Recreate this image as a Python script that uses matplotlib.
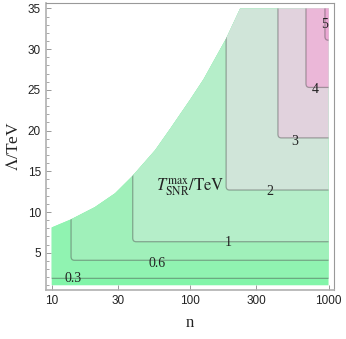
import matplotlib
matplotlib.use("Agg")
import matplotlib.pyplot as plt
from matplotlib.path import Path
from matplotlib.patches import PathPatch, Polygon
from matplotlib.ticker import FixedLocator, MultipleLocator, NullLocator, FixedFormatter

# ---- data ----
boundary_n = [10, 13.8, 20.5, 28.7, 38.2, 55.9, 71.6, 100, 125, 182, 230]
boundary_L = [8.1, 9.1, 10.6, 12.3, 14.4, 17.6, 20.2, 23.8, 26.3, 31.3, 35.0]

levels = ["0.3", "0.6", "1", "2", "3", "4", "5"]
corner_n = [9, 13.8, 38.5, 182, 431, 687, 942]
corner_L = [1.85, 4.07, 6.35, 12.7, 19.1, 25.3, 31.1]
label_n = [14.3, 57.4, 187, 379, 565, 802, 931]
label_L = [1.85, 3.7, 6.23, 12.5, 18.6, 25.1, 33.05]
band_colors = ['#82f5a9', '#90f3b1', '#a0f0ba', '#b5eec9',
               '#d0e5d9', '#e1d2dd', '#ebb7d8', '#eaa8d3']

n_range = [10, 1000]
L_range = [1, 35]
xticks = [10, 30, 100, 300, 1000]
xticklabels = ["10", "30", "100", "300", "1000"]
yticks = [5, 10, 15, 20, 25, 30, 35]

plt.rcParams['mathtext.fontset'] = 'stix'

fig = plt.figure(figsize=(3.46, 3.39), dpi=100)
ax = fig.add_axes([45.7 / 346, 1 - 290 / 339, (333.5 - 45.7) / 346, (290 - 3) / 339])
ax.set_xscale('log')
ax.set_xlim(9.05, 1086)
ax.set_ylim(0.42, 35.67)

# allowed region
verts = [(n_range[0], L_range[0])] + list(zip(boundary_n, boundary_L)) + \
        [(n_range[1], L_range[1]), (n_range[1], L_range[0])]
base = Polygon(verts, closed=True, facecolor=band_colors[0], edgecolor='none',
               transform=ax.transData, zorder=1)
ax.add_patch(base)

top, right = 40, 1200
rL = 0.45
fx = 10 ** 0.024
for i, (nc, Lc) in enumerate(zip(corner_n, corner_L)):
    v = [(nc, top), (nc, Lc + rL), (nc, Lc), (nc * fx, Lc), (right, Lc), (right, top), (nc, top)]
    c = [Path.MOVETO, Path.LINETO, Path.CURVE3, Path.CURVE3, Path.LINETO, Path.LINETO, Path.CLOSEPOLY]
    p = PathPatch(Path(v, c), facecolor=band_colors[i + 1], edgecolor='none', zorder=2 + i)
    ax.add_patch(p)
    p.set_clip_path(base)
    ln = PathPatch(Path(v[:5], c[:5]), facecolor='none', edgecolor=(0.3, 0.3, 0.3, 0.45),
                   lw=0.9, zorder=20)
    ax.add_patch(ln)
    ln.set_clip_path(base)

for lab, x, y in zip(levels, label_n, label_L):
    ax.text(x, y, lab, ha='center', va='center', fontsize=10,
            family='Liberation Serif', color='#222222', zorder=30)

ax.text(100, 13.1, r'$T_{\rm SNR}^{\rm max}/{\rm TeV}$', ha='center', va='center',
        fontsize=12, color='#222222', zorder=30)

ax.xaxis.set_major_locator(FixedLocator(xticks))
ax.xaxis.set_major_formatter(FixedFormatter(xticklabels))
ax.xaxis.set_minor_locator(NullLocator())
ax.yaxis.set_major_locator(FixedLocator(yticks))
ax.yaxis.set_minor_locator(MultipleLocator(1))

ax.tick_params(which='both', direction='in', color='#999999', labelcolor='#222222',
               top=False, right=False)
ax.tick_params(which='major', length=3.6, width=0.7, pad=3.5, labelsize=8.5)
ax.tick_params(which='minor', length=2, width=0.6)
for lab in ax.get_xticklabels() + ax.get_yticklabels():
    lab.set_family('Liberation Sans')

for s in ['left', 'bottom']:
    ax.spines[s].set_color('#b0b0b0')
    ax.spines[s].set_linewidth(1.2)
for s in ['top', 'right']:
    ax.spines[s].set_color('#999999')
    ax.spines[s].set_linewidth(0.8)

ax.set_xlabel('n', family='Liberation Serif', fontsize=12, labelpad=6, color='#222222')
ax.set_ylabel(r'$\Lambda$/TeV', family='Liberation Serif', fontsize=12.5, labelpad=4,
              color='#222222')

fig.savefig('out.png', dpi=100, facecolor='white')
